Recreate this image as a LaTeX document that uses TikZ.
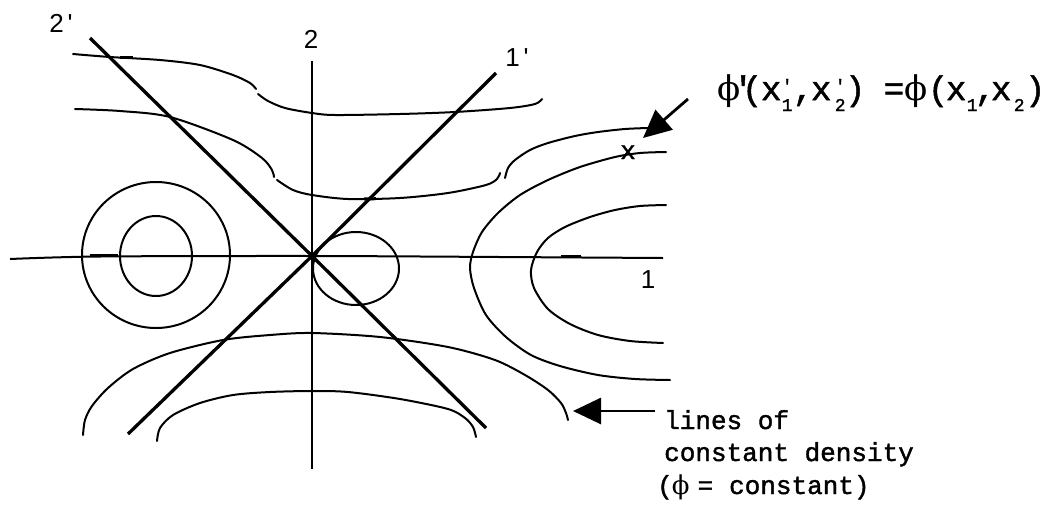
\documentclass[tikz,border=0pt]{standalone}
\usepackage{fontspec}
\newfontfamily\monof[FakeBold=1.5]{Liberation Mono}
\newfontfamily\sansf{Liberation Sans}
\newfontfamily\phif{DejaVu Serif}
\usetikzlibrary{arrows.meta}
\newcommand\myphi{{\phif ϕ}}
\newcommand\zb[1]{\makebox[0pt]{#1}}
\begin{document}
\begin{tikzpicture}[x=1pt,y=-1pt,
  contour/.style={line width=2pt, line cap=round},
  axisline/.style={line width=2pt},
  diag/.style={line width=3.3pt},
  tickmark/.style={line width=3pt},
  lbl/.style={font=\sansf\fontsize{26}{30}\selectfont, inner sep=0pt, anchor=base},
  mono/.style={font=\monof\fontsize{26}{31}\selectfont, inner sep=0pt, anchor=base west},
  eqm/.style={font=\monof\fontsize{34}{40}\selectfont, inner sep=0pt, anchor=base west},
  bigarrow/.style={line width=2.8pt, -{Triangle[length=28pt,width=26pt]}}
]
\newcommand\subf{\monof\fontsize{18}{20}\selectfont}
\newcommand\sub[1]{\zb{\raisebox{-11pt}{\subf #1}}}
\newcommand\psub[1]{\zb{\raisebox{-11pt}{\subf #1}}\zb{\raisebox{8pt}{\subf '}}}
\useasboundingbox (0,0) rectangle (1044,504);

% named points
\coordinate (O) at (312,256);
\coordinate (ax2top) at (312,61);
\coordinate (ax2bot) at (312,469);
\coordinate (d2top) at (90,38);
\coordinate (d2bot) at (486,428);
\coordinate (d1top) at (496,73);
\coordinate (d1bot) at (128,434);

% axes
\draw[axisline] (ax2top) -- (ax2bot);
\draw[axisline] plot[smooth] coordinates {(10,259) (100,256.5) (312,256) (500,257) (663,258)};
\draw[line width=2.6pt] (90,255.6) -- (118,255.6);
\draw[tickmark] (561,256.5) -- (581,256.5);

% rotated axes
\draw[diag] (d2top) -- (O) -- (d2bot);
\draw[diag] (d1top) -- (O) -- (d1bot);

% upper contour 1
\draw[contour] plot[smooth] coordinates {(73,54) (110,57) (160,60) (200,65) (233,75) (250,83) (256,89)};
\draw[contour] plot[smooth] coordinates {(258,94) (268,101) (285,108) (312,113) (335,115) (400,114) (455,112) (510,108) (535,104) (542,99)};
\draw[tickmark] (120,57.5) -- (133,57.5);

% upper contour 2
\draw[contour] plot[smooth] coordinates {(75,109) (120,111) (170,117) (233,140) (262,158) (272,170) (274,177)};
\draw[contour] plot[smooth] coordinates {(277,180) (293,190) (312,195) (348,199) (400,198) (448,193) (486,185) (497,179) (500,173)};
\draw[tickmark] (364,199) -- (376,198.7);

% right contour (upper branch)
\draw[contour] plot[smooth] coordinates {(505,178) (508,168) (515,160) (530,150) (548,143) (575,136) (598,132) (625,129) (648,128)};

% right big C
\draw[contour] plot[smooth] coordinates {(666,152) (640,153) (615,157) (580,167) (548,180) (520,195) (498,213) (482,232) (473,252) (470,268) (474,288) (486,315) (506,337) (531,355) (560,366) (598,375) (635,379) (670,380)};

% right small C
\draw[contour] plot[smooth] coordinates {(666,205) (640,206) (615,210) (590,217) (565,227) (548,238) (537,252) (531,270) (534,288) (548,309) (570,324) (598,335) (630,341) (663,343)};

% left circles
\draw[contour] (156,255) ellipse [x radius=74, y radius=73];
\draw[contour] (156,256) ellipse [x radius=36, y radius=40];

% small circle near origin
\draw[contour] (356,268.5) ellipse [x radius=43, y radius=36.5];

% lower arches
\draw[contour] plot[smooth] coordinates {(83,435) (85,420) (92,406) (108,388) (133,369) (170,353) (223,340) (270,335) (312,333) (380,337) (448,347) (495,360) (525,375) (548,390) (561,403) (566,413) (568,420)};
\draw[contour] plot[smooth] coordinates {(157,441) (160,428) (173,415) (200,403) (233,395) (270,392) (312,391) (348,392) (400,399) (448,409) (465,418) (473,427) (476,437)};

% axis labels
\node[lbl] (l2p) at (61,32) {2\kern4pt'};
\node[lbl] (l2) at (311,48) {2};
\node[lbl] (l1p) at (517,66) {1\kern4pt'};
\node[lbl] (l1) at (648,288) {1};

% point x
\node[mono, anchor=base] (px) at (628,159) {x};

% equation
\node[eqm] (eqL) at (719,100) {\kern10pt\zb{\myphi}\kern14pt\zb{'}\kern9pt\zb{(}\kern19pt\zb{x}\kern16pt\psub{1}\kern16pt\zb{,}\kern18pt\zb{x}\kern19pt\psub{2}\kern15pt\zb{)}\kern7pt};
\node[eqm, anchor=base] (eqE) at (894,100) {=};
\node[eqm] (eqR) at (906,100) {\kern10pt\zb{\myphi}\kern22pt\zb{(}\kern18pt\zb{x}\kern16pt\sub{1}\kern13pt\zb{,}\kern16pt\zb{x}\kern18pt\sub{2}\kern16pt\zb{)}\kern5pt};

% arrow to x
\coordinate (axs) at (688,99);
\coordinate (axe) at (643,138);
\draw[bigarrow] (axs) -- (axe);

% lines of constant density
\node[mono] (t1) at (664,429) {lines of};
\node[mono] (t2) at (664,461) {constant density};
\node[mono] (t3) at (657,494) {(\kern-1pt\myphi\hspace{8pt}=\hspace{16pt}constant)};
\coordinate (als) at (655,411);
\coordinate (ale) at (573,411);
\draw[bigarrow] (als) -- (ale);

\end{tikzpicture}
\end{document}
